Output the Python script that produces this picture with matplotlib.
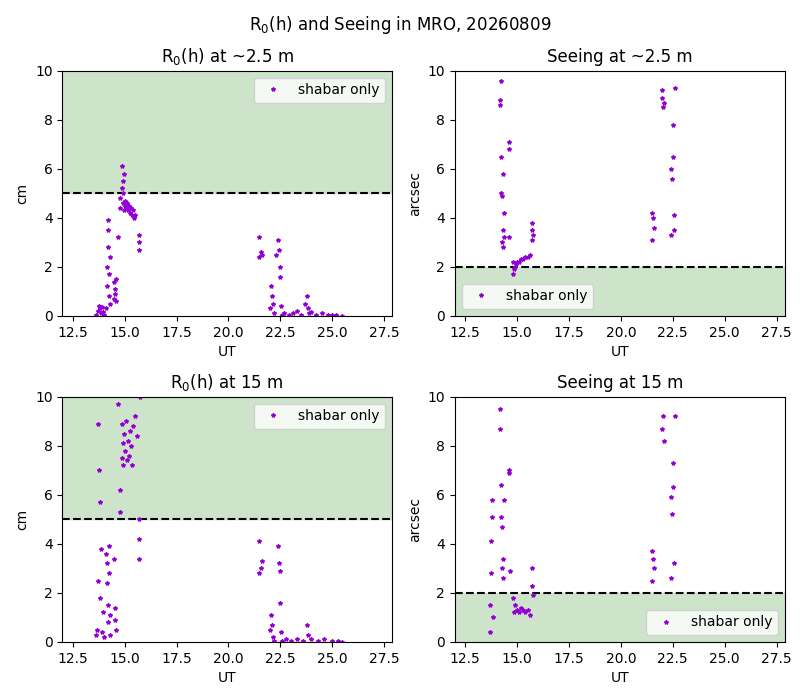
import matplotlib.pyplot as plt

# R0 at ~2.5 m (UT, cm)
r0_low_t = [13.6, 13.7, 13.75, 13.8, 13.85, 13.9, 13.95, 14.0, 14.1, 14.15, 14.15, 14.2, 14.2, 14.2, 14.25, 14.25, 14.3,
            14.3, 14.5, 14.5, 14.55, 14.55, 14.6, 14.6, 14.7, 14.8, 14.8, 14.85, 14.85, 14.9, 14.9, 14.9, 14.95, 14.95,
            15.0, 15.0, 15.05, 15.1, 15.15, 15.2, 15.25, 15.3, 15.35, 15.4, 15.45, 15.5, 15.7, 15.7, 15.7,
            21.5, 21.5, 21.55, 21.6, 22.0, 22.05, 22.1, 22.15, 22.2, 22.3, 22.4, 22.45, 22.5, 22.5, 22.55, 22.6,
            22.7, 22.9, 23.1, 23.3, 23.5, 23.7, 23.8, 23.85, 23.9, 24.0, 24.2, 24.5, 24.8, 25.0, 25.2, 25.5]
r0_low_v = [0.05, 0.2, 0.4, 0.3, 0.1, 0.35, 0.15, 0.05, 0.3, 1.2, 2.0, 2.8, 3.5, 3.9, 1.7, 0.8, 2.4,
            0.5, 0.7, 1.4, 0.9, 1.1, 0.6, 1.5, 3.2, 4.4, 4.8, 5.2, 6.1, 5.5, 4.6, 5.0, 5.8, 4.3,
            4.7, 4.5, 4.4, 4.6, 4.3, 4.5, 4.2, 4.4, 4.1, 4.3, 4.0, 4.1, 2.7, 3.3, 3.0,
            2.4, 3.2, 2.6, 2.5, 0.3, 1.2, 0.8, 0.5, 0.1, 2.5, 3.1, 2.7, 1.6, 2.0, 0.4, 0.05,
            0.1, 0.05, 0.1, 0.2, 0.05, 0.5, 0.8, 0.3, 0.1, 0.15, 0.05, 0.1, 0.03, 0.05, 0.02, 0.01]

# Seeing at ~2.5 m (UT, arcsec)
see_low_t = [14.15, 14.15, 14.2, 14.2, 14.2, 14.25, 14.25, 14.3, 14.3, 14.3, 14.35, 14.35, 14.6, 14.6, 14.6,
             14.8, 14.8, 14.85, 14.9, 14.95, 15.0, 15.1, 15.2, 15.3, 15.4, 15.5, 15.6, 15.7, 15.7, 15.7, 15.75,
             21.5, 21.5, 21.55, 21.6, 22.0, 22.0, 22.05, 22.1, 22.4, 22.4, 22.45, 22.5, 22.5, 22.55, 22.55, 22.6]
see_low_v = [8.8, 8.6, 9.6, 6.5, 5.0, 3.0, 4.9, 2.8, 3.5, 5.8, 4.2, 3.2, 6.8, 7.1, 3.2,
             2.2, 1.7, 1.9, 2.0, 2.1, 2.2, 2.2, 2.3, 2.3, 2.4, 2.4, 2.5, 3.1, 3.5, 3.8, 3.3,
             3.1, 4.2, 4.0, 3.6, 8.9, 9.2, 8.5, 8.7, 3.3, 6.0, 5.6, 6.5, 7.8, 4.1, 3.5, 9.3]

# R0 at 15 m (UT, cm)
r0_high_t = [13.6, 13.65, 13.7, 13.7, 13.75, 13.8, 13.8, 13.85, 13.9, 13.95, 14.0, 14.1, 14.15, 14.15, 14.2, 14.2,
             14.25, 14.25, 14.3, 14.3, 14.5, 14.55, 14.55, 14.6, 14.7, 14.8, 14.8, 14.85, 14.85, 14.9, 14.9, 14.95,
             15.0, 15.05, 15.1, 15.15, 15.2, 15.25, 15.3, 15.35, 15.4, 15.5, 15.6, 15.7, 15.7, 15.7, 15.75,
             21.5, 21.5, 21.55, 21.6, 22.0, 22.05, 22.1, 22.15, 22.2, 22.4, 22.45, 22.5, 22.5, 22.55, 22.6,
             22.8, 23.0, 23.3, 23.6, 23.8, 23.85, 24.0, 24.3, 24.6, 25.0, 25.3, 25.5]
r0_high_v = [0.3, 0.5, 2.5, 8.9, 7.0, 5.7, 1.8, 3.8, 0.4, 1.2, 0.2, 3.6, 3.2, 2.4, 1.5, 0.8,
             3.9, 2.8, 0.3, 1.1, 3.4, 0.9, 1.4, 0.5, 9.7, 5.3, 6.2, 7.5, 8.9, 8.1, 7.2, 8.5,
             7.8, 9.0, 7.4, 8.2, 7.6, 8.6, 8.0, 7.2, 8.8, 9.2, 8.4, 3.4, 5.0, 4.2, 10.0,
             2.8, 4.1, 3.0, 3.3, 0.5, 1.1, 0.7, 0.2, 0.05, 3.9, 3.2, 2.9, 1.6, 0.4, 0.05,
             0.1, 0.05, 0.1, 0.05, 0.7, 0.3, 0.1, 0.05, 0.1, 0.05, 0.02, 0.01]

# Seeing at 15 m (UT, arcsec)
see_high_t = [13.7, 13.7, 13.75, 13.75, 13.8, 13.8, 13.85, 14.15, 14.15, 14.2, 14.2, 14.25, 14.25, 14.3, 14.3,
              14.35, 14.6, 14.6, 14.65, 14.8, 14.85, 14.9, 15.0, 15.1, 15.2, 15.3, 15.4, 15.5, 15.6, 15.7, 15.7, 15.75,
              21.5, 21.5, 21.55, 21.6, 22.0, 22.05, 22.1, 22.4, 22.4, 22.45, 22.5, 22.5, 22.55, 22.6]
see_high_v = [0.4, 1.5, 2.8, 4.1, 5.8, 5.1, 1.0, 8.7, 9.5, 6.4, 5.1, 3.0, 4.7, 3.4, 2.6,
              5.8, 6.9, 7.0, 2.9, 1.8, 1.2, 1.5, 1.3, 1.2, 1.4, 1.3, 1.2, 1.3, 1.1, 2.3, 3.0, 1.9,
              2.5, 3.7, 3.4, 3.0, 8.7, 9.2, 8.2, 2.6, 5.9, 5.2, 6.3, 7.3, 3.2, 9.2]

color = '#9400d3'
shade = '#cde4cb'
panels = [
    (r0_low_t, r0_low_v, 'R$_0$(h) at ~2.5 m', 'cm', 5, 'above', 'upper right'),
    (see_low_t, see_low_v, 'Seeing at ~2.5 m', 'arcsec', 2, 'below', 'lower left'),
    (r0_high_t, r0_high_v, 'R$_0$(h) at 15 m', 'cm', 5, 'above', 'upper right'),
    (see_high_t, see_high_v, 'Seeing at 15 m', 'arcsec', 2, 'below', 'lower right'),
]

fig, axes = plt.subplots(2, 2, figsize=(8, 7), dpi=100)
for ax, (t, v, title, unit, thr, side, loc) in zip(axes.flat, panels):
    if side == 'above':
        ax.axhspan(thr, 10, color=shade, zorder=0)
    else:
        ax.axhspan(0, thr, color=shade, zorder=0)
    ax.axhline(thr, color='black', linestyle='--', linewidth=1.5)
    ax.plot(t, v, '*', color=color, markersize=3, label='shabar only')
    ax.set_xlim(12.0, 27.9)
    ax.set_ylim(0, 10)
    ax.set_xticks([12.5, 15.0, 17.5, 20.0, 22.5, 25.0, 27.5])
    ax.set_title(title)
    ax.set_xlabel('UT')
    ax.set_ylabel(unit)
    ax.legend(loc=loc)

fig.suptitle('R$_0$(h) and Seeing in MRO, 20260809')
fig.subplots_adjust(left=0.078, right=0.981, top=0.899, bottom=0.083, wspace=0.19, hspace=0.33)
fig.savefig('out.png')
